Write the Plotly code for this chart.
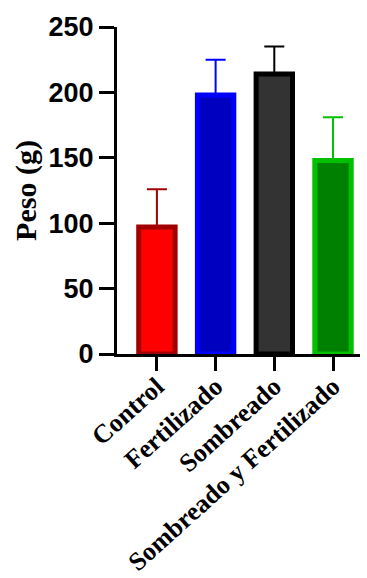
import plotly.graph_objects as go

categories = ["Control", "Fertilizado", "Sombreado", "Sombreado y Fertilizado"]
means = [97, 198, 214, 148]
errors = [29, 27, 21, 33]
fill_colors = ["#FF0000", "#0000C0", "#333333", "#008000"]
line_colors = ["#A00000", "#0000FF", "#000000", "#00C000"]
y_ticks = [0, 50, 100, 150, 200, 250]

fig = go.Figure()
for i, cat in enumerate(categories):
    fig.add_trace(go.Bar(
        x=[cat], y=[means[i]],
        width=0.62,
        marker=dict(color=fill_colors[i], line=dict(color=line_colors[i], width=5)),
        error_y=dict(type="data", symmetric=False, array=[errors[i]], arrayminus=[0],
                     color=line_colors[i], thickness=2, width=10),
        showlegend=False,
    ))

fig.update_layout(
    width=367, height=578,
    margin=dict(l=117, r=7, t=27, b=224, autoexpand=False),
    plot_bgcolor="white", paper_bgcolor="white",
    barmode="overlay",
)
fig.update_xaxes(
    type="category", categoryorder="array", categoryarray=categories,
    range=[-0.68, 3.46], automargin=False,
    showline=True, linecolor="black", linewidth=3,
    ticks="outside", ticklen=14, tickwidth=3, tickcolor="black",
    tickangle=-42, ticklabelstandoff=-10,
    tickfont=dict(family="Liberation Serif", size=26, color="black", weight="bold"),
    showgrid=False, zeroline=False,
)
fig.update_yaxes(
    range=[0, 250], tickvals=y_ticks, automargin=False,
    showline=True, linecolor="black", linewidth=3,
    ticks="outside", ticklen=15, tickwidth=3, tickcolor="black",
    tickfont=dict(family="Liberation Sans", size=27, color="black", weight="bold"),
    title=dict(text="Peso (g)", font=dict(family="Liberation Serif", size=30, color="black", weight="bold"), standoff=4),
    showgrid=False, zeroline=False,
)

fig.write_html("out.html")
